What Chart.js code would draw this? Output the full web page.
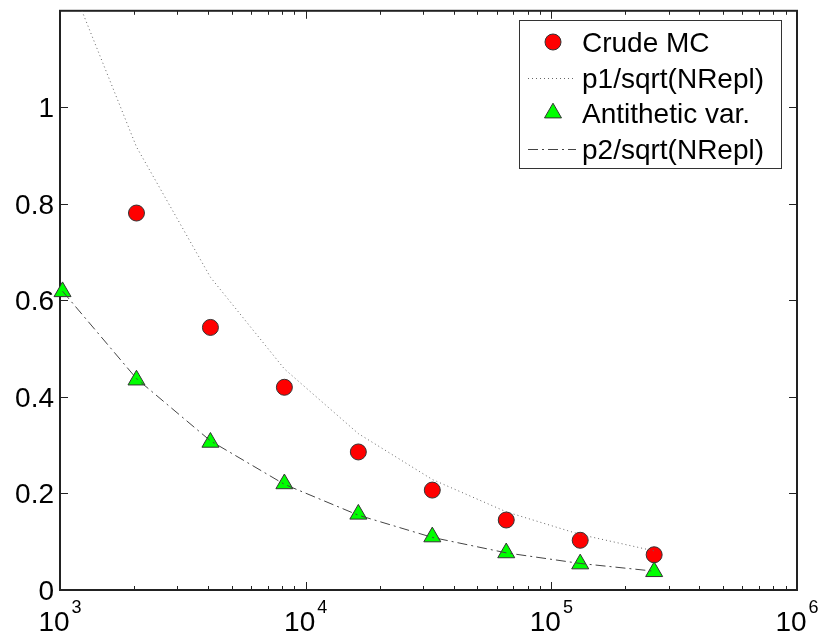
<!DOCTYPE html>
<html>
<head>
<meta charset="utf-8">
<script src="https://cdn.jsdelivr.net/npm/chart.js@4.4.1/dist/chart.umd.min.js"></script>
<style>
  html, body { margin: 0; padding: 0; background: #fff; }
  #wrap { width: 820px; height: 637px; }
</style>
</head>
<body>
<div id="wrap"><canvas id="c" width="820" height="637"></canvas></div>
<script>
// Number of replications
const nRepl  = [1024, 2048, 4096, 8192, 16384, 32768, 65536, 131072, 262144];
const nCrude = [2048, 4096, 8192, 16384, 32768, 65536, 131072, 262144];

// Estimated errors and fitted curves
const crudeMC    = [0.781, 0.544, 0.420, 0.286, 0.207, 0.145, 0.103, 0.073];
const p1Fit      = [1.30, 0.918, 0.648, 0.458, 0.324, 0.229, 0.162, 0.115, 0.081];
const antithetic = [0.618, 0.435, 0.306, 0.220, 0.157, 0.110, 0.077, 0.054, 0.038];
const p2Fit      = [0.619, 0.438, 0.309, 0.219, 0.155, 0.109, 0.077, 0.055, 0.039];

// Axis ticks
const xTickExps   = [3, 4, 5, 6];
const yTicks      = [0, 0.2, 0.4, 0.6, 0.8, 1];
const yTickLabels = ['0', '0.2', '0.4', '0.6', '0.8', '1'];

const legendLabels = ['Crude MC', 'p1/sqrt(NRepl)', 'Antithetic var.', 'p2/sqrt(NRepl)'];

const FONT = '"Liberation Sans", Arial, sans-serif';
const pts = (xs, ys) => xs.map((x, i) => ({ x, y: ys[i] }));

// Box axes with inward ticks and tick labels (exponent notation on x)
const frame = {
  id: 'frame',
  beforeDatasetsDraw(chart) {
    const { ctx, chartArea: a, scales: { x, y } } = chart;
    ctx.save();
    ctx.strokeStyle = '#222';
    ctx.lineWidth = 1;
    ctx.beginPath();
    for (let e = 3; e < 6; e++) {
      for (let m = 1; m <= 9; m++) {
        const px = Math.round(x.getPixelForValue(m * Math.pow(10, e))) + 0.5;
        const len = m === 1 ? 8 : 4;
        ctx.moveTo(px, a.bottom); ctx.lineTo(px, a.bottom - len);
        ctx.moveTo(px, a.top);    ctx.lineTo(px, a.top + len);
      }
    }
    yTicks.forEach(v => {
      const py = Math.round(y.getPixelForValue(v)) + 0.5;
      ctx.moveTo(a.left, py);  ctx.lineTo(a.left + 8, py);
      ctx.moveTo(a.right, py); ctx.lineTo(a.right - 8, py);
    });
    ctx.stroke();
    ctx.lineWidth = 2;
    ctx.strokeRect(a.left, a.top, a.right - a.left, a.bottom - a.top);

    ctx.fillStyle = '#000';
    // y tick labels
    ctx.font = '28px ' + FONT;
    ctx.textAlign = 'right';
    ctx.textBaseline = 'alphabetic';
    yTicks.forEach((v, i) => {
      ctx.fillText(yTickLabels[i], a.left - 6, y.getPixelForValue(v) + 10);
    });
    // x tick labels: 10 with superscript exponent
    ctx.textAlign = 'left';
    xTickExps.forEach(e => {
      const px = x.getPixelForValue(Math.pow(10, e));
      ctx.font = '28px ' + FONT;
      const wb = ctx.measureText('10').width;
      ctx.font = '18px ' + FONT;
      const we = ctx.measureText(String(e)).width;
      const x0 = px - (wb + 2 + we) / 2;
      ctx.font = '28px ' + FONT;
      ctx.fillText('10', x0, a.bottom + 41);
      ctx.font = '18px ' + FONT;
      ctx.fillText(String(e), x0 + wb + 2, a.bottom + 23);
    });
    ctx.restore();
  },
  afterDatasetsDraw(chart) {
    const { ctx } = chart;
    const ds = chart.data.datasets;
    ctx.save();
    // legend box
    ctx.fillStyle = '#fff';
    ctx.fillRect(519, 20, 262, 148);
    ctx.strokeStyle = '#333';
    ctx.lineWidth = 1;
    ctx.strokeRect(519.5, 20.5, 262, 148);

    const rows = [42, 78, 113, 149];
    ds.forEach((d, i) => {
      const yy = rows[i];
      if (d.showLine) {
        ctx.save();
        ctx.strokeStyle = d.borderColor;
        ctx.lineWidth = d.borderWidth;
        ctx.setLineDash(d.borderDash);
        ctx.beginPath();
        ctx.moveTo(528, yy + 0.5);
        ctx.lineTo(576, yy + 0.5);
        ctx.stroke();
        ctx.restore();
      } else {
        ctx.fillStyle = d.backgroundColor;
        ctx.strokeStyle = d.borderColor;
        ctx.lineWidth = d.borderWidth;
        ctx.beginPath();
        if (d.pointStyle === 'circle') {
          ctx.arc(553, yy, d.pointRadius, 0, Math.PI * 2);
        } else {
          const r = d.pointRadius;
          ctx.moveTo(553, yy - r);
          ctx.lineTo(553 + Math.sin(2 * Math.PI / 3) * r, yy - Math.cos(2 * Math.PI / 3) * r);
          ctx.lineTo(553 + Math.sin(4 * Math.PI / 3) * r, yy - Math.cos(4 * Math.PI / 3) * r);
          ctx.closePath();
        }
        ctx.fill();
        ctx.stroke();
      }
      ctx.fillStyle = '#000';
      ctx.font = '28px ' + FONT;
      ctx.textAlign = 'left';
      ctx.textBaseline = 'alphabetic';
      ctx.fillText(legendLabels[i], 582, yy + 10);
    });
    ctx.restore();
  }
};

new Chart(document.getElementById('c'), {
  type: 'scatter',
  data: {
    datasets: [
      {
        label: legendLabels[0],
        data: pts(nCrude, crudeMC),
        showLine: false,
        pointStyle: 'circle',
        pointRadius: 8,
        backgroundColor: '#ff0000',
        borderColor: '#333',
        borderWidth: 1,
        clip: false,
        order: 3
      },
      {
        label: legendLabels[1],
        data: pts(nRepl, p1Fit),
        showLine: true,
        pointRadius: 0,
        borderColor: '#666',
        borderWidth: 1,
        borderDash: [1, 3],
        order: 2
      },
      {
        label: legendLabels[2],
        data: pts(nRepl, antithetic),
        showLine: false,
        pointStyle: 'triangle',
        pointRadius: 9.8,
        backgroundColor: '#00ff00',
        borderColor: '#333',
        borderWidth: 1,
        clip: false,
        order: 1
      },
      {
        label: legendLabels[3],
        data: pts(nRepl, p2Fit),
        showLine: true,
        pointRadius: 0,
        borderColor: '#444',
        borderWidth: 1,
        borderDash: [10, 4, 2, 4],
        order: 0
      }
    ]
  },
  options: {
    responsive: false,
    devicePixelRatio: 1,
    animation: false,
    layout: { padding: { left: 60, right: 23, top: 8, bottom: 47 } },
    plugins: { legend: { display: false }, tooltip: { enabled: false } },
    scales: {
      x: { type: 'logarithmic', min: 1000, max: 1000000, display: false },
      y: { type: 'linear', min: 0, max: 1.2, display: false }
    }
  },
  plugins: [frame]
});
</script>
</body>
</html>
